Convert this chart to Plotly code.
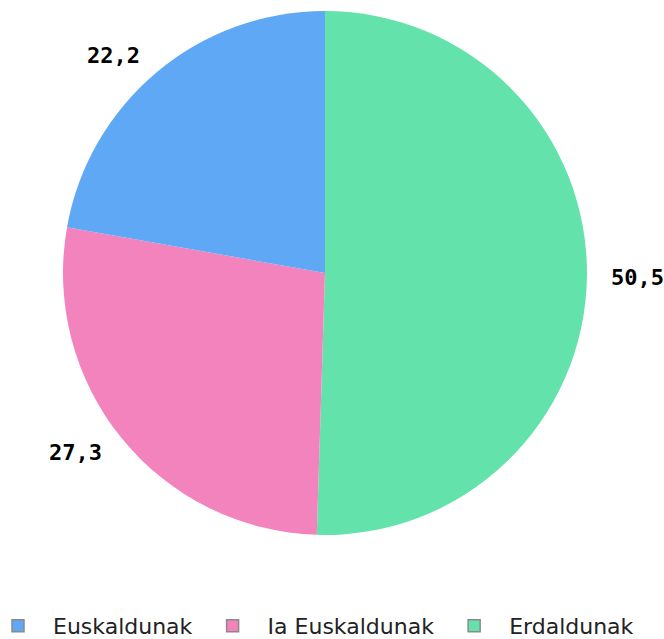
import math
import plotly.graph_objects as go

labels = ["Euskaldunak", "Ia Euskaldunak", "Erdaldunak"]
values = [22.2, 27.3, 50.5]
value_text = ["22,2", "27,3", "50,5"]
colors = ["#5EA8F5", "#F283BD", "#63E3AB"]

W, H = 664, 639
CX, CY, R = 325, 273, 262

fig = go.Figure()
# slices run counterclockwise from 12 o'clock in legend order,
# i.e. clockwise from 12 o'clock in reversed order
fig.add_trace(go.Pie(
    labels=labels[::-1], values=values[::-1], sort=False, direction="clockwise",
    rotation=0, marker=dict(colors=colors[::-1], line=dict(width=0)),
    textinfo="none", hoverinfo="label+value", showlegend=False,
    domain=dict(x=[(CX - R) / W, (CX + R) / W], y=[1 - (CY + R) / H, 1 - (CY - R) / H]),
))

# legend entries
for lab, col in zip(labels, colors):
    fig.add_trace(go.Scatter(
        x=[None], y=[None], mode="markers", name=lab,
        marker=dict(symbol="square", size=12, color=col, line=dict(color="#8a8a8a", width=1.5)),
    ))

# outside value labels near slice midpoints
total = sum(values)
cum = 0
annotations = []
for v, t in zip(values, value_text):
    mid = (cum + v / 2) / total * 2 * math.pi
    cum += v
    dx, dy = -math.sin(mid), -math.cos(mid)
    px = CX + 1.085 * R * dx
    py = CY + 1.085 * R * dy
    annotations.append(dict(
        x=px / W, y=1 - py / H, xref="paper", yref="paper", text="<b>" + t + "</b>",
        showarrow=False,
        font=dict(family="DejaVu Sans Mono", size=22, color="#000000"),
        xanchor="right" if dx < 0 else "left", yanchor="middle",
    ))

fig.update_layout(
    width=W, height=H, margin=dict(l=0, r=0, t=0, b=0, autoexpand=False),
    paper_bgcolor="white", plot_bgcolor="white",
    xaxis=dict(visible=False), yaxis=dict(visible=False),
    annotations=annotations,
    legend=dict(orientation="h", x=-17 / W, y=-8 / H, xanchor="left", yanchor="bottom",
                font=dict(family="DejaVu Sans", size=22, color="#222222"),
                itemwidth=60, bgcolor="rgba(0,0,0,0)"),
)

fig.write_html("out.html", config={"displayModeBar": False},
               post_script="document.body.style.margin='0';")
